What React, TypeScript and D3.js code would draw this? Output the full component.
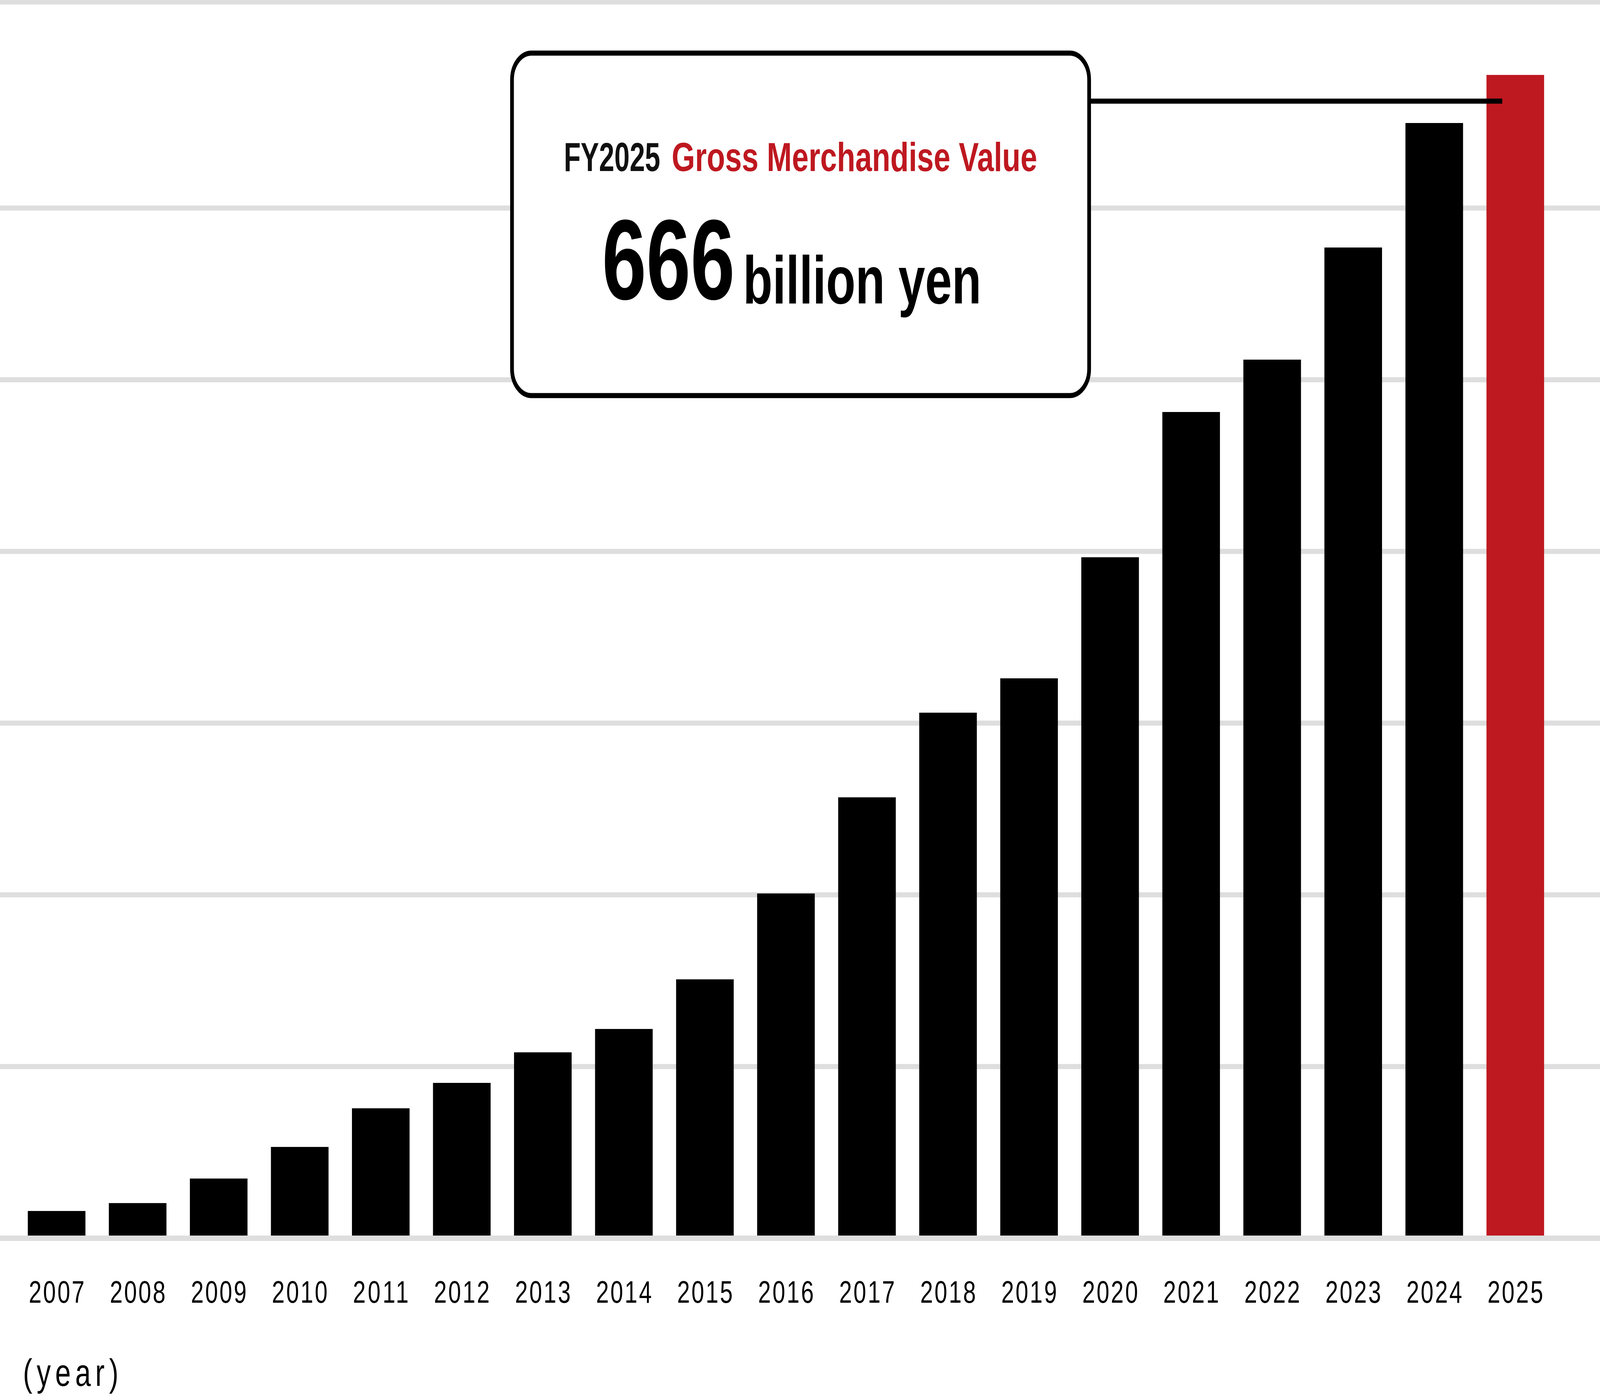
import * as d3 from "d3";
import { FC } from "react";

const WIDTH = 5581;
const HEIGHT = 3580;

// gross merchandise value by fiscal year (read against the 100-step grid)
const years = [
  "2007", "2008", "2009", "2010", "2011", "2012", "2013", "2014", "2015", "2016",
  "2017", "2018", "2019", "2020", "2021", "2022", "2023", "2024", "2025",
];
const values = [
  15.9, 20.5, 34.8, 53.2, 75.7, 90.5, 108.3, 121.9, 150.8, 200.8,
  256.8, 306.1, 326.1, 396.6, 481.2, 511.7, 577.0, 649.5, 677.5,
];
const gridValues = [100, 200, 300, 400, 500, 600, 720];
const highlightYear = "2025";

const calloutLead = "FY2025";
const calloutTitle = "Gross Merchandise Value";
const calloutValue = "666";
const calloutUnit = "billion yen";
const axisTitle = "(year)";

const RED = "#be1820";
const GRID = "#dedede";
const FONT = "'Liberation Sans', Arial, sans-serif";

const App: FC = () => {
  const x = d3.scaleBand<string>().domain(years).range([97, 5386]).paddingInner(0.289).paddingOuter(0);
  const y = d3.scaleLinear().domain([0, 720]).range([3171, 5]);

  // callout box layout
  const box = { x: 1786, y: 136, w: 2013, h: 877, r: 68 };
  const leaderY = 259;
  const leaderEnd = (x(highlightYear) || 0) + 55;

  // the browser caps the viewport width, so the drawing is stretched to fill it
  return (
    <svg
      viewBox={`0 0 ${WIDTH} ${HEIGHT}`}
      preserveAspectRatio="none"
      style={{ position: "absolute", left: 0, top: 0, width: "100vw", height: "100vh", display: "block", background: "#fff" }}
    >
      <g>
        {gridValues.map((v) => (
          <line key={v} x1={0} x2={WIDTH} y1={y(v)} y2={y(v)} stroke={GRID} strokeWidth={13} />
        ))}
      </g>

      <g>
        {years.map((yr, i) => (
          <rect
            key={yr}
            x={x(yr)}
            width={x.bandwidth()}
            y={y(values[i])}
            height={y(0) - y(values[i])}
            fill={yr === highlightYear ? RED : "#000"}
          />
        ))}
      </g>

      {/* baseline */}
      <line x1={0} x2={WIDTH} y1={y(0)} y2={y(0)} stroke={GRID} strokeWidth={14} />

      <g fontFamily={FONT} fontSize={80} fill="#000">
        {years.map((yr) => (
          <text
            key={yr}
            x={(x(yr) || 0) + x.bandwidth() / 2}
            y={3336}
            textAnchor="middle"
            textLength={194}
            lengthAdjust="spacing"
          >
            {yr}
          </text>
        ))}
      </g>

      <text x={80} y={3549} fontFamily={FONT} fontSize={98} textLength={333} lengthAdjust="spacing">
        {axisTitle}
      </text>

      {/* callout */}
      <line x1={box.x + box.w} x2={leaderEnd} y1={leaderY} y2={leaderY} stroke="#000" strokeWidth={13} />
      <rect
        x={box.x}
        y={box.y}
        width={box.w}
        height={box.h}
        rx={box.r}
        ry={box.r}
        fill="#fff"
        stroke="#000"
        strokeWidth={13}
      />
      <g fontFamily={FONT} fontWeight={700}>
        <text x={1967} y={438} fontSize={104} fill="#111" textLength={336} lengthAdjust="spacingAndGlyphs">
          {calloutLead}
        </text>
        <text x={2343} y={438} fontSize={104} fill={RED} textLength={1275} lengthAdjust="spacingAndGlyphs">
          {calloutTitle}
        </text>
        <text x={2100} y={766} fontSize={292} fill="#000" textLength={463} lengthAdjust="spacingAndGlyphs">
          {calloutValue}
        </text>
        <text x={2592} y={777} fontSize={172} fill="#000" textLength={831} lengthAdjust="spacingAndGlyphs">
          {calloutUnit}
        </text>
      </g>
    </svg>
  );
};

export default App;
